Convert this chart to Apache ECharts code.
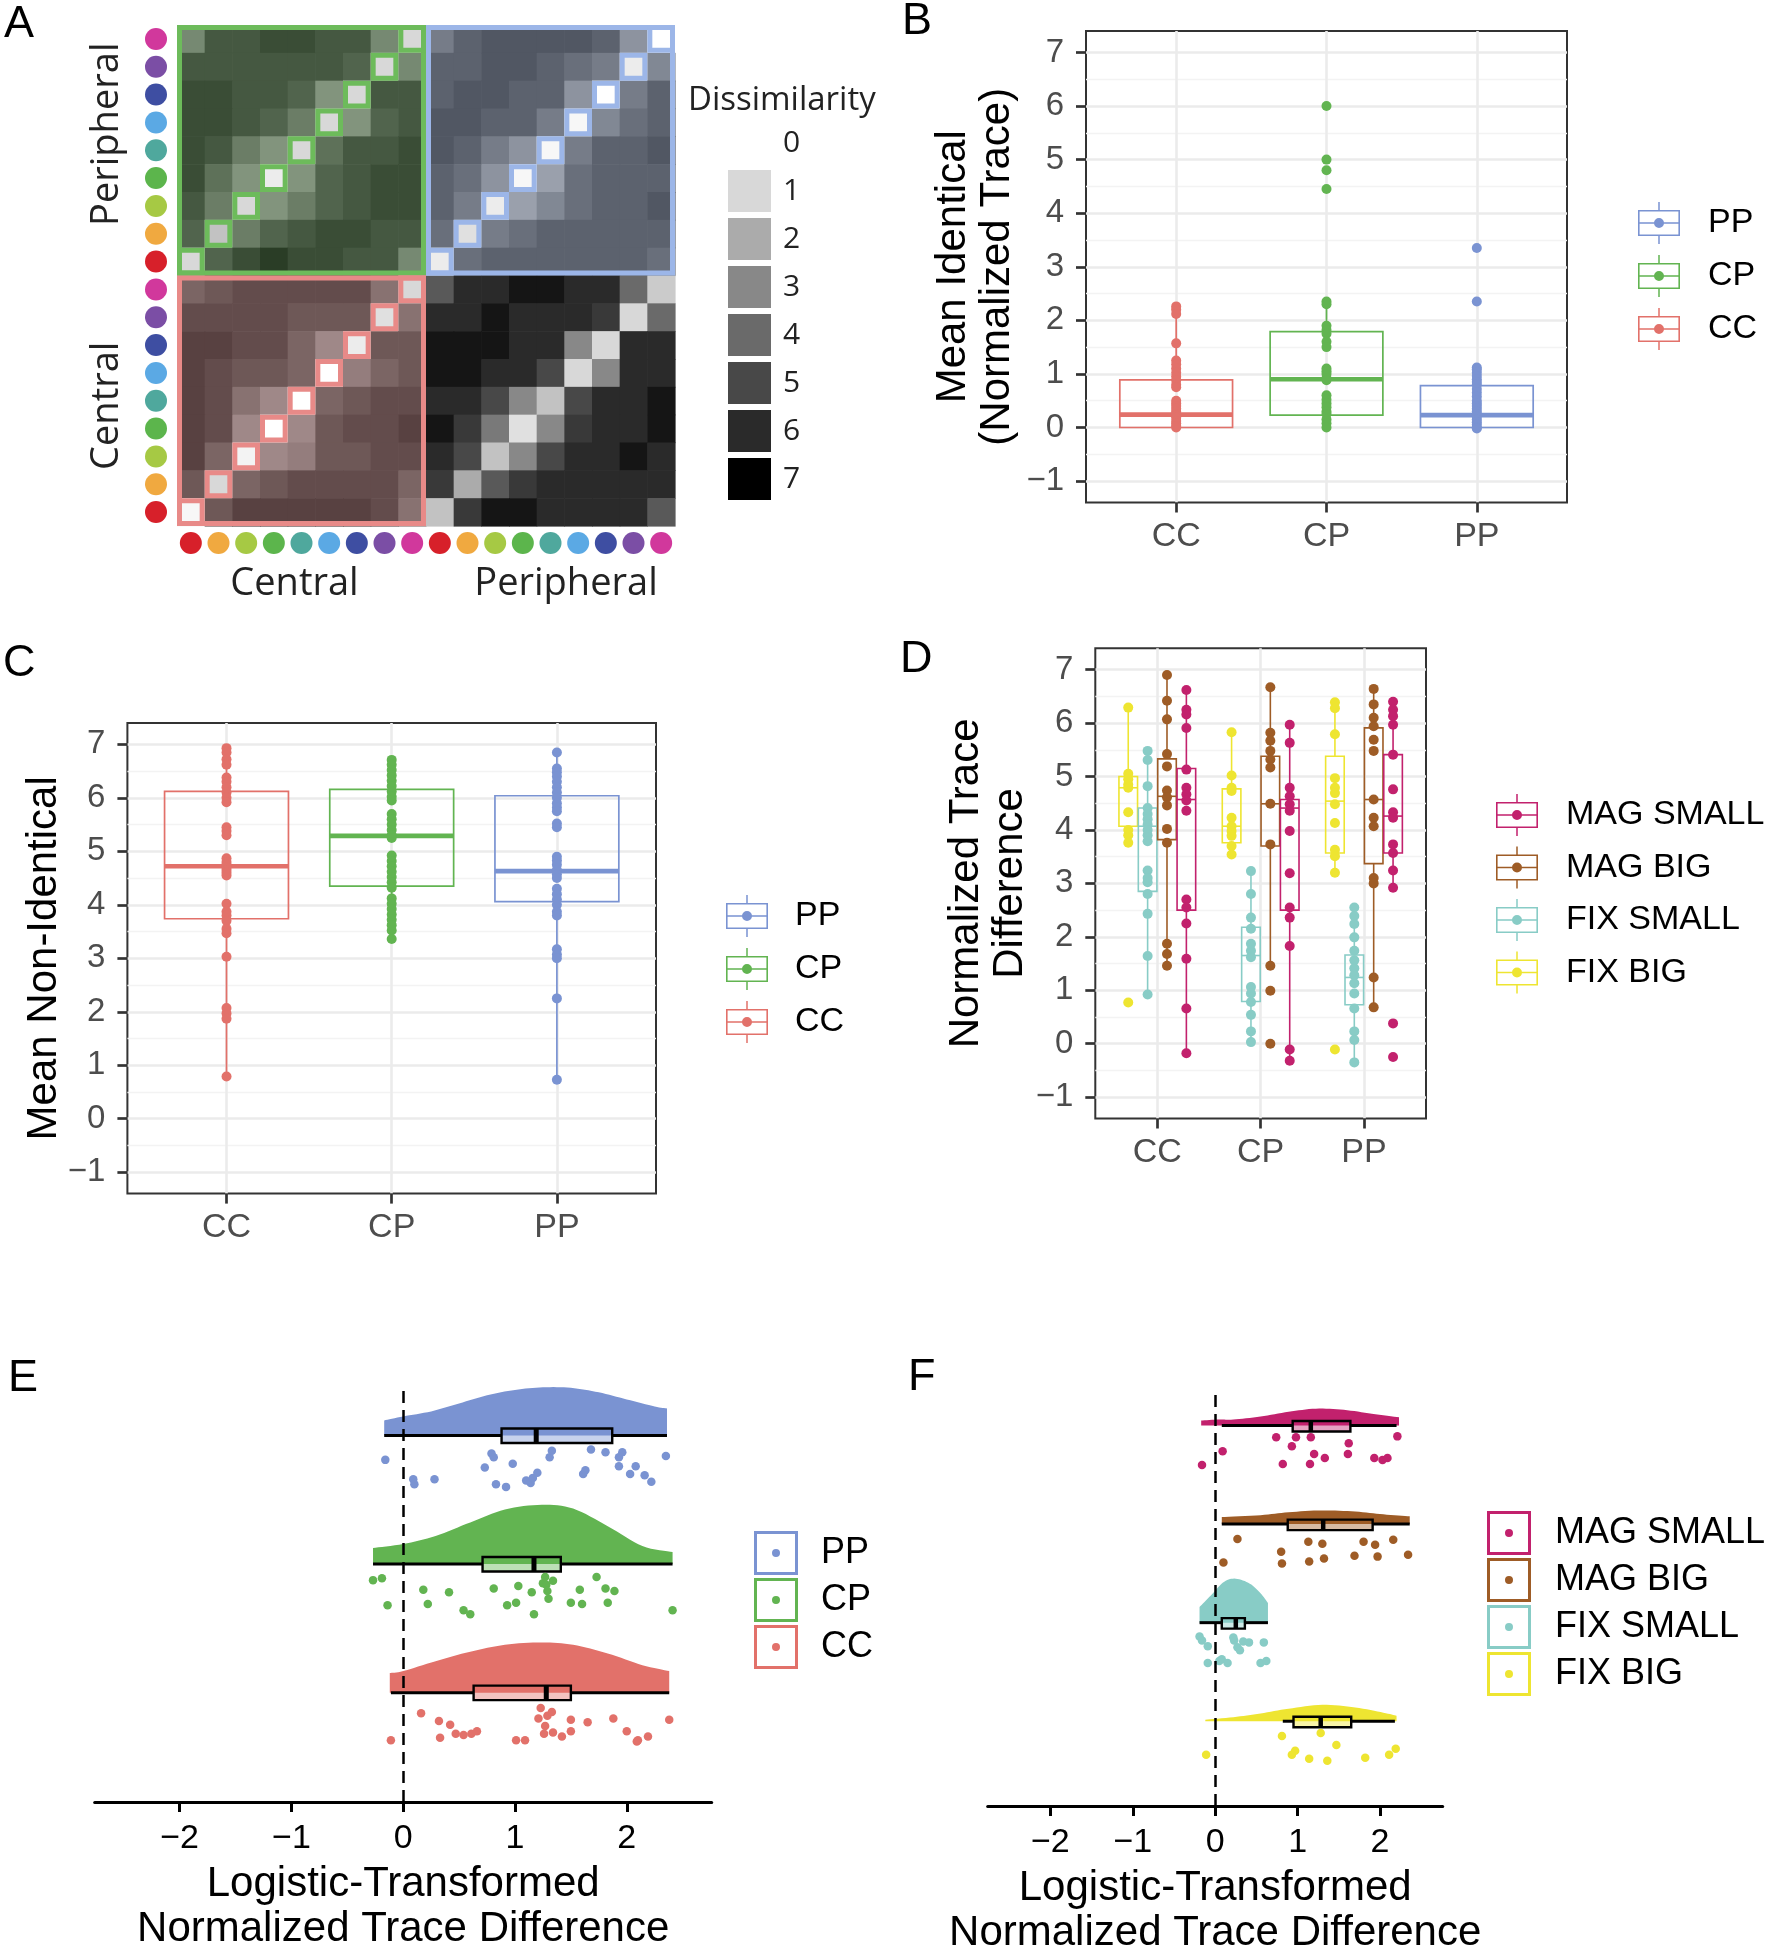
<!DOCTYPE html>
<html><head><meta charset="utf-8">
<script src="https://cdn.jsdelivr.net/npm/echarts@6/dist/echarts.min.js"></script>
<style>html,body{margin:0;padding:0;background:#fff}#chart{width:1770px;height:1955px}</style>
</head><body><div id="chart"></div>
<script>
// ================= DATA =================
// ---- Panel A ----
const aGroupNames = ['Central', 'Peripheral'];
const aColorNames = ['red', 'orange', 'light green', 'green', 'teal', 'light blue', 'blue', 'purple', 'magenta'];
const aDissimilarityLevels = [0, 1, 2, 3, 4, 5, 6, 7];
// rows from top (Peripheral magenta) to bottom (Central red); columns: Central red..magenta, Peripheral red..magenta
const aDissimilarityRows = [
  [3.5,5.5,5.5,6,6,5.5,5.5,3.5,1, 4,5,5.5,5.5,5.5,5.5,5,3,0],
  [5.5,5.5,5.5,5.5,5.5,5.5,5,1,3.5, 5,5,5.5,5.5,5,4.5,4,0.5,3.5],
  [6,6,5.5,5.5,5,3,1,5.5,5.5, 5,5.5,5.5,5,5,3,0,4,5],
  [6,6,5.5,5,4,1,3,5,5.5, 5.5,5.5,5,5,4,0.2,3.5,4.5,5],
  [6,5.5,4,3,1,4.5,5.5,5.5,6, 5.5,5,4,3,0.2,4,5,5,5.5],
  [6,4.5,3,0.5,3,5,5.5,6,6, 5,4.5,3,0.2,2.5,4.5,5,5,5],
  [5.5,4,1,3,4,5,5.5,6,6, 5,4,0.5,2.5,3.5,4.5,5,5,5.5],
  [5,1.5,4,5,5.5,6,6,5.5,5.5, 4.5,0.8,4,4.5,5,5,5,5,5],
  [1,5,6,6.5,6,6,5.5,5.5,3.5, 0.5,4.5,5,5,5,5,5,5,4.5],
  [4.5,5,5.5,5.5,5.5,5.5,5.5,4,1, 4.5,6,6,6.5,6.5,6,6,4,1.3],
  [5.5,5.5,5.5,5.5,5,5,5,0.8,4, 6,6,6.5,6,6,6,5.5,1,4],
  [6,6,5.5,5.5,4.5,3,0.5,5,5, 6.5,6.5,6.5,6,6,3,1,6,6],
  [6,5.5,5,5,4.5,0,3.5,4.5,5, 6.5,6.5,6,6,5,1,3,6,6],
  [6,5.5,4,3,0,4.5,5,5.5,5.5, 6,6,5,3,1.5,5,6,6,6.5],
  [6,5.5,3,0,3,5,5.5,5.5,6, 6.5,5.5,3.5,0.8,3,5.5,6,6,6.5],
  [6,4.5,0.3,3,3.5,5,5,5.5,5.5, 6,5,1.5,3,5,6,6,6.5,6],
  [5,1,4.5,5,5.5,5.5,5.5,5.5,4.5, 5.5,2,4.5,5.5,6,6,6,6,6],
  [0.2,5,6,6,6,6,6,5.5,4, 1.5,5.5,6.5,6.5,6,6,6,6,4.5]
];
const aOutlinedPairs = ['CP', 'PP', 'CC'];

// ---- Panels B, C ----
const catNames = ['CC', 'CP', 'PP'];
const yTickValues = [-1, 0, 1, 2, 3, 4, 5, 6, 7];
const yMinorValues = [-0.5, 0.5, 1.5, 2.5, 3.5, 4.5, 5.5, 6.5];
// box stats: [min whisker, Q1, median, Q3, max whisker]
const bBoxCC = [0.0, 0.0, 0.24, 0.89, 2.26];
const bBoxCP = [0.0, 0.23, 0.9, 1.79, 2.35];
const bBoxPP = [-0.02, 0.0, 0.23, 0.78, 1.12];
const bPointsCC = [2.26, 2.2, 2.12, 1.57, 1.25, 1.18, 1.1, 1.02, 0.95, 0.88, 0.8, 0.75, 0.5, 0.45, 0.4, 0.35, 0.3, 0.25, 0.22, 0.18, 0.12, 0.08, 0.03, 0.0];
const bPointsCP = [6.0, 5.0, 4.8, 4.45, 2.35, 2.3, 1.9, 1.82, 1.75, 1.6, 1.5, 1.1, 1.05, 1.0, 0.92, 0.88, 0.6, 0.52, 0.45, 0.38, 0.3, 0.25, 0.15, 0.08, 0.0];
const bPointsPP = [3.35, 2.35, 1.12, 1.08, 1.02, 0.96, 0.9, 0.85, 0.8, 0.72, 0.65, 0.58, 0.5, 0.45, 0.4, 0.35, 0.3, 0.25, 0.2, 0.15, 0.1, 0.05, 0.0, -0.02];

const cBoxCC = [0.79, 3.74, 4.72, 6.12, 6.93];
const cBoxCP = [3.36, 4.35, 5.29, 6.16, 6.71];
const cBoxPP = [0.73, 4.06, 4.63, 6.04, 6.85];
const cPointsCC = [6.93, 6.85, 6.72, 6.62, 6.38, 6.3, 6.2, 6.1, 6.0, 5.92, 5.45, 5.38, 5.3, 4.87, 4.8, 4.75, 4.7, 4.65, 4.6, 4.55, 4.02, 3.87, 3.8, 3.7, 3.55, 3.47, 3.03, 2.07, 1.97, 1.87, 0.79];
const cPointsCP = [6.71, 6.62, 6.52, 6.42, 6.32, 6.22, 6.12, 6.02, 5.95, 5.7, 5.6, 5.5, 5.4, 5.3, 5.25, 4.92, 4.82, 4.72, 4.62, 4.52, 4.42, 4.32, 4.12, 4.02, 3.92, 3.82, 3.72, 3.62, 3.52, 3.36];
const cPointsPP = [6.85, 6.55, 6.48, 6.4, 6.3, 6.2, 6.1, 6.0, 5.9, 5.82, 5.75, 5.52, 5.45, 4.9, 4.83, 4.75, 4.65, 4.57, 4.5, 4.3, 4.2, 4.1, 4.0, 3.87, 3.8, 3.17, 3.07, 3.0, 2.25, 0.73];

// ---- Panel D ----  (order within each category: CC, CP, PP)
const dGroupNames = ['FIX BIG', 'FIX SMALL', 'MAG BIG', 'MAG SMALL'];
const dBoxFixBig = [[3.76, 4.07, 4.79, 5.0, 6.29], [3.54, 3.76, 4.07, 4.77, 5.83], [3.2, 3.57, 4.54, 5.38, 6.39]];
const dBoxFixSmall = [[0.92, 2.85, 4.07, 4.41, 5.48], [0.03, 0.79, 1.65, 2.18, 3.23], [-0.35, 0.73, 1.24, 1.66, 2.55]];
const dBoxMagBig = [[1.46, 3.82, 4.63, 5.33, 6.9], [1.46, 3.7, 4.49, 5.38, 6.67], [0.68, 3.37, 4.57, 5.91, 6.64]];
const dBoxMagSmall = [[-0.18, 2.5, 4.57, 5.15, 6.62], [-0.32, 2.5, 4.41, 4.57, 5.97], [2.92, 3.57, 4.26, 5.41, 6.4]];
const dPointsFixBig = [
  [6.29, 5.05, 4.95, 4.85, 4.79, 4.33, 4.0, 3.9, 3.76, 0.77],
  [5.83, 5.02, 4.79, 4.73, 4.23, 4.07, 3.98, 3.89, 3.7, 3.54],
  [6.39, 6.28, 5.79, 4.97, 4.79, 4.69, 4.48, 4.13, 3.63, 3.51, 3.2, -0.11]];
const dPointsFixSmall = [
  [5.48, 5.31, 4.82, 4.41, 4.3, 4.2, 4.1, 4.0, 3.9, 3.79, 3.24, 3.1, 3.02, 2.8, 2.43, 1.64, 0.92],
  [3.23, 2.8, 2.36, 2.15, 1.87, 1.74, 1.62, 1.06, 0.94, 0.78, 0.54, 0.23, 0.03],
  [2.55, 2.39, 2.24, 1.99, 1.74, 1.56, 1.41, 1.28, 1.13, 0.94, 0.66, 0.23, 0.07, -0.35]];
const dPointsMagBig = [
  [6.9, 6.42, 6.07, 5.42, 5.19, 4.74, 4.61, 4.46, 4.02, 3.76, 1.87, 1.68, 1.46],
  [6.67, 5.82, 5.67, 5.48, 5.32, 5.17, 4.49, 3.73, 1.46, 0.99, 0.0],
  [6.64, 6.35, 6.1, 5.94, 5.69, 5.48, 4.57, 4.23, 4.07, 3.1, 3.0, 1.24, 0.68]];
const dPointsMagSmall = [
  [6.62, 6.25, 6.16, 5.91, 5.13, 4.79, 4.67, 4.55, 4.36, 2.7, 2.55, 2.25, 1.59, 0.66, -0.18],
  [5.97, 5.63, 4.79, 4.63, 4.48, 4.36, 3.98, 3.19, 2.55, 2.36, 1.83, -0.11, -0.32],
  [6.4, 6.25, 6.13, 5.97, 5.41, 4.76, 4.33, 4.23, 3.73, 3.57, 3.24, 2.92, 0.38, -0.25]];

// ---- Panel E ---- (groups listed top to bottom)
const eGroupNames = ['PP', 'CP', 'CC'];
const eXTicks = [-2, -1, 0, 1, 2];
const eDensX_PP = [-0.17, 0, 0.25, 0.5, 0.75, 1.0, 1.25, 1.5, 1.75, 2.0, 2.25, 2.36];
const eDensH_PP = [0.117, 0.148, 0.187, 0.249, 0.312, 0.354, 0.374, 0.370, 0.335, 0.280, 0.225, 0.21];
const eDensX_CP = [-0.27, 0, 0.29, 0.6, 0.91, 1.24, 1.52, 1.83, 2.14, 2.41];
const eDensH_CP = [0.125, 0.156, 0.218, 0.324, 0.424, 0.461, 0.431, 0.294, 0.140, 0.093];
const eDensX_CC = [-0.12, 0, 0.29, 0.6, 0.91, 1.24, 1.52, 1.83, 2.14, 2.38];
const eDensH_CC = [0.153, 0.168, 0.245, 0.319, 0.372, 0.391, 0.372, 0.305, 0.214, 0.168];
const eBox_PP = [-0.17, 0.88, 1.19, 1.87, 2.36];
const eBox_CP = [-0.27, 0.71, 1.17, 1.41, 2.41];
const eBox_CC = [-0.11, 0.63, 1.28, 1.50, 2.38];
const ePtsX_PP = [-0.16, 0.09, 0.10, 0.28, 0.79, 0.81, 0.73, 0.83, 0.92, 0.98, 1.10, 1.14, 1.16, 1.20, 1.31, 1.33, 1.61, 1.63, 1.68, 1.81, 1.93, 1.96, 1.93, 2.03, 2.08, 2.16, 2.22, 2.35];
const ePtsJ_PP = [0.19, 0.34, 0.38, 0.34, 0.14, 0.17, 0.25, 0.38, 0.40, 0.22, 0.35, 0.37, 0.33, 0.29, 0.17, 0.12, 0.30, 0.27, 0.11, 0.13, 0.17, 0.13, 0.24, 0.30, 0.24, 0.31, 0.36, 0.16];
const ePtsX_CP = [-0.27, -0.19, -0.14, 0.18, 0.22, 0.41, 0.54, 0.60, 0.81, 0.93, 1.01, 1.03, 1.15, 1.17, 1.25, 1.27, 1.28, 1.29, 1.30, 1.34, 1.50, 1.58, 1.60, 1.73, 1.81, 1.83, 1.89, 2.41];
const ePtsJ_CP = [0.125, 0.11, 0.32, 0.20, 0.31, 0.22, 0.36, 0.39, 0.19, 0.32, 0.30, 0.17, 0.22, 0.39, 0.15, 0.10, 0.16, 0.21, 0.27, 0.13, 0.30, 0.20, 0.31, 0.10, 0.19, 0.30, 0.21, 0.36];
const ePtsX_CC = [-0.11, 0.16, 0.32, 0.33, 0.42, 0.47, 0.54, 0.61, 0.66, 1.01, 1.09, 1.23, 1.21, 1.26, 1.27, 1.29, 1.33, 1.34, 1.42, 1.50, 1.50, 1.65, 1.88, 2.00, 2.09, 2.10, 2.19, 2.38];
const ePtsJ_CC = [0.37, 0.16, 0.22, 0.35, 0.25, 0.32, 0.33, 0.32, 0.30, 0.37, 0.37, 0.12, 0.20, 0.32, 0.26, 0.18, 0.15, 0.31, 0.34, 0.21, 0.30, 0.23, 0.20, 0.30, 0.38, 0.37, 0.34, 0.21];

// ---- Panel F ---- (groups listed top to bottom)
const fGroupNames = ['MAG SMALL', 'MAG BIG', 'FIX SMALL', 'FIX BIG'];
const fDensX_MagSmall = [-0.17, 0.05, 0.22, 0.55, 0.89, 1.22, 1.56, 1.9, 2.23];
const fDensH_MagSmall = [0.051, 0.061, 0.061, 0.091, 0.139, 0.171, 0.159, 0.120, 0.083];
const fDensX_MagBig = [0.08, 0.55, 0.89, 1.3, 1.7, 2.04, 2.36];
const fDensH_MagBig = [0.071, 0.091, 0.120, 0.139, 0.127, 0.099, 0.079];
const fDensX_FixSmall = [-0.19, -0.05, 0.11, 0.25, 0.42, 0.55, 0.64];
const fDensH_FixSmall = [0.159, 0.279, 0.416, 0.446, 0.396, 0.298, 0.199];
const fDensX_FixBig = [-0.12, 0.22, 0.55, 0.89, 1.3, 1.7, 2.04, 2.2];
const fDensH_FixBig = [0.016, 0.041, 0.079, 0.127, 0.167, 0.139, 0.087, 0.056];
const fBox_MagSmall = [0.08, 0.94, 1.16, 1.64, 2.2];
const fBox_MagBig = [0.08, 0.88, 1.31, 1.91, 2.36];
const fBox_FixSmall = [-0.19, 0.08, 0.25, 0.36, 0.64];
const fBox_FixBig = [0.82, 0.95, 1.28, 1.65, 2.18];
const fPtsX_MagSmall = [-0.16, 0.09, 0.74, 0.98, 0.93, 1.16, 1.20, 1.33, 0.82, 1.15, 1.62, 1.61, 1.93, 2.03, 2.09, 2.21];
const fPtsJ_MagSmall = [0.40, 0.26, 0.12, 0.12, 0.21, 0.12, 0.29, 0.33, 0.39, 0.39, 0.18, 0.29, 0.33, 0.35, 0.33, 0.11];
const fPtsX_MagBig = [0.27, 0.10, 0.80, 0.81, 1.13, 1.14, 1.30, 1.32, 1.69, 1.80, 1.94, 1.97, 2.16, 2.34];
const fPtsJ_MagBig = [0.15, 0.39, 0.28, 0.40, 0.18, 0.38, 0.20, 0.35, 0.32, 0.18, 0.21, 0.33, 0.16, 0.31];
const fPtsX_FixSmall = [-0.19, -0.16, -0.09, -0.09, 0.08, 0.15, 0.23, 0.27, 0.30, 0.34, 0.41, 0.59, 0.55, 0.62, 0.05, 0.22];
const fPtsJ_FixSmall = [0.14, 0.18, 0.24, 0.41, 0.37, 0.41, 0.18, 0.25, 0.28, 0.19, 0.20, 0.20, 0.41, 0.39, 0.39, 0.15];
const fPtsX_FixBig = [-0.11, 0.81, 0.97, 0.93, 1.14, 1.28, 1.47, 1.36, 1.82, 2.11, 2.19];
const fPtsJ_FixBig = [0.34, 0.15, 0.30, 0.34, 0.38, 0.12, 0.24, 0.40, 0.37, 0.34, 0.28];

// ================= STYLES =================
const FONT = '"Liberation Sans", Arial, Helvetica, sans-serif';
const FONT_A = '"Open Sans", "Noto Sans", sans-serif';
const aDotColors = ['#d7202a', '#f0a940', '#a6c944', '#5cb54c', '#4fa89d', '#5ba9e4', '#3e4ea2', '#7b4ea5', '#d1389c'];
const aGrayStops = [255, 216, 171, 136, 106, 72, 42, 0];
const aQuadColors = { CP: '#6dbb5b', PP: '#9cb6e8', CC: '#e88a88' };
const catColors = { CC: '#e2716a', CP: '#62b451', PP: '#7a93d2' };
const dColors = { 'FIX BIG': '#eee531', 'FIX SMALL': '#88ccc6', 'MAG BIG': '#9e5c26', 'MAG SMALL': '#c2216d' };

// ================= HELPERS =================
const nA = aColorNames.length;
function grayOf(v) {
  const i = Math.min(aGrayStops.length - 2, Math.floor(v));
  const t = v - i;
  return aGrayStops[i] * (1 - t) + aGrayStops[i + 1] * t;
}
function hexToRgb(h) { return [parseInt(h.slice(1, 3), 16), parseInt(h.slice(3, 5), 16), parseInt(h.slice(5, 7), 16)]; }
function quadKey(c, r) {
  const cg = Math.floor(c / nA), rg = Math.floor(r / nA);
  return (cg === 0 ? 'C' : 'P') + (rg === 0 ? 'C' : 'P');
}
function cellColor(c, r, v) {
  const g = grayOf(v);
  const key = quadKey(c, r);
  const tint = aQuadColors[key];
  if (!tint || (c % nA) === (r % nA)) { const q = Math.round(g); return 'rgb(' + q + ',' + q + ',' + q + ')'; }
  const t = hexToRgb(tint), a = 0.24;
  return 'rgb(' + t.map(x => Math.round(g * (1 - a) + x * a)).join(',') + ')';
}
function fmtMinus(v) { return String(v).replace('-', '\u2212'); }
function catmull(pts, seg) {
  const out = [];
  for (let i = 0; i < pts.length - 1; i++) {
    const p0 = pts[Math.max(i - 1, 0)], p1 = pts[i], p2 = pts[i + 1], p3 = pts[Math.min(i + 2, pts.length - 1)];
    for (let k = 0; k < seg; k++) {
      const s = k / seg, s2 = s * s, s3 = s2 * s;
      const f = d => 0.5 * (2 * p1[d] + (-p0[d] + p2[d]) * s + (2 * p0[d] - 5 * p1[d] + 4 * p2[d] - p3[d]) * s2 + (-p0[d] + 3 * p1[d] - 3 * p2[d] + p3[d]) * s3);
      out.push([f(0), f(1)]);
    }
  }
  out.push(pts[pts.length - 1]);
  return out;
}

// vertical box (panels B, C, D): value = [x, min, q1, med, q3, max]
function vBoxRender(halfW, lw, medW) {
  return function (params, api) {
    const x = api.value(0);
    const lo = api.coord([x, api.value(1)]), q1 = api.coord([x, api.value(2)]), md = api.coord([x, api.value(3)]),
      q3 = api.coord([x, api.value(4)]), hi = api.coord([x, api.value(5)]);
    const hw = api.size([halfW, 0])[0];
    const color = api.visual('color');
    return { type: 'group', children: [
      { type: 'line', shape: { x1: lo[0], y1: lo[1], x2: q1[0], y2: q1[1] }, style: { stroke: color, lineWidth: lw } },
      { type: 'line', shape: { x1: q3[0], y1: q3[1], x2: hi[0], y2: hi[1] }, style: { stroke: color, lineWidth: lw } },
      { type: 'rect', shape: { x: q3[0] - hw, y: q3[1], width: 2 * hw, height: q1[1] - q3[1] }, style: { fill: 'none', stroke: color, lineWidth: lw } },
      { type: 'line', shape: { x1: md[0] - hw, y1: md[1], x2: md[0] + hw, y2: md[1] }, style: { stroke: color, lineWidth: medW } }
    ] };
  };
}
// horizontal box (panels E, F): value = [base, min, q1, med, q3, max]
function hBoxRender(up, down, boxLw, whLw, medW) {
  return function (params, api) {
    const base = api.value(0);
    const p = k => api.coord([api.value(k), base]);
    const lo = p(1), q1 = p(2), md = p(3), q3 = p(4), hi = p(5);
    const y = lo[1];
    const color = api.visual('color');
    return { type: 'group', children: [
      { type: 'line', shape: { x1: lo[0], y1: y, x2: q1[0], y2: y }, style: { stroke: '#000', lineWidth: whLw } },
      { type: 'line', shape: { x1: q3[0], y1: y, x2: hi[0], y2: y }, style: { stroke: '#000', lineWidth: whLw } },
      { type: 'rect', shape: { x: q1[0], y: y - up, width: q3[0] - q1[0], height: up + down }, style: { fill: echarts.color.modifyAlpha(color, 0.42), stroke: '#000', lineWidth: boxLw } },
      { type: 'line', shape: { x1: md[0], y1: y - up, x2: md[0], y2: y + down }, style: { stroke: '#000', lineWidth: medW } }
    ] };
  };
}
function densityRender(xs, hs) {
  return function (params, api) {
    const base = api.value(1);
    const top = xs.map((x, i) => api.coord([x, base + hs[i]]));
    const sm = catmull(top, 8);
    const pts = [api.coord([xs[0], base])].concat(sm, [api.coord([xs[xs.length - 1], base])]);
    return { type: 'polygon', shape: { points: pts }, style: { fill: api.visual('color') } };
  };
}

// ================= AXES =================
const dotRich = {};
aDotColors.forEach((c, i) => { dotRich['d' + i] = { width: 22, height: 22, borderRadius: 11, backgroundColor: c }; });
const aCategories = [];
aGroupNames.forEach(g => aColorNames.forEach(cn => aCategories.push(g + ' ' + cn)));

const groupRichX = {
  c: { fontFamily: FONT_A, fontSize: 38, lineHeight: 38, color: '#222', padding: [0, 14, 0, 0] },
  p: { fontFamily: FONT_A, fontSize: 38, lineHeight: 38, color: '#222', padding: [0, 0, 0, 31] }
};
const groupRichY = {
  c: { fontFamily: FONT_A, fontSize: 38, lineHeight: 38, color: '#222', padding: [0, 10, 0, 0] },
  p: { fontFamily: FONT_A, fontSize: 38, lineHeight: 38, color: '#222', padding: [0, 0, 0, 32] }
};

function catXAxis(gi) {
  return {
    type: 'value', gridIndex: gi, min: 0.4, max: 3.6, position: 'bottom',
    axisLine: { show: false, onZero: false },
    axisTick: { show: true, customValues: [1, 2, 3], length: 10, lineStyle: { color: '#333', width: 2.7 } },
    axisLabel: { customValues: [1, 2, 3], formatter: v => catNames[Math.round(v) - 1], fontSize: 34, lineHeight: 36, color: '#4d4d4d', fontFamily: FONT, margin: 16 },
    splitLine: { show: true, lineStyle: { color: '#ebebeb', width: 2.6 } }
  };
}
function minorYAxis(gi) {
  return {
    type: 'value', gridIndex: gi, position: 'left', min: -1.4, max: 7.4,
    axisLine: { show: false, onZero: false }, axisTick: { show: false, customValues: yMinorValues }, axisLabel: { show: false },
    splitLine: { show: true, lineStyle: { color: '#f3f3f3', width: 1.4 } }
  };
}
function majorYAxis(gi, name, gap) {
  return {
    type: 'value', gridIndex: gi, position: 'left', min: -1.4, max: 7.4,
    axisLine: { show: false, onZero: false },
    axisTick: { show: true, customValues: yTickValues, length: 10, lineStyle: { color: '#333', width: 2.7 } },
    axisLabel: { customValues: yTickValues, formatter: v => fmtMinus(v), fontSize: 33, lineHeight: 36, color: '#4d4d4d', fontFamily: FONT, margin: 22 },
    splitLine: { show: true, lineStyle: { color: '#ebebeb', width: 2.7 } },
    name: name, nameLocation: 'middle', nameGap: gap, nameMoveOverlap: false,
    nameTextStyle: { fontSize: 42, lineHeight: 44, color: '#000', fontFamily: FONT }
  };
}
function rainXAxis(gi) {
  return {
    type: 'value', gridIndex: gi, min: -2.76, max: 2.76, position: 'bottom',
    axisLine: { show: true, onZero: false, lineStyle: { color: '#000', width: 3 } },
    axisTick: { show: true, customValues: eXTicks, length: 10, lineStyle: { color: '#000', width: 3 } },
    axisLabel: { customValues: eXTicks, formatter: v => fmtMinus(v), fontSize: 34, lineHeight: 38, color: '#000', fontFamily: FONT, margin: 18 },
    splitLine: { show: false },
    name: 'Logistic-Transformed\nNormalized Trace Difference', nameLocation: 'middle', nameGap: 60, nameMoveOverlap: false,
    nameTextStyle: { fontSize: 42, lineHeight: 45, color: '#000', fontFamily: FONT }
  };
}

const xAxes = [
  { type: 'category', gridIndex: 0, data: aCategories, boundaryGap: true, position: 'bottom',
    axisLine: { show: false, onZero: false }, axisTick: { show: false }, splitLine: { show: false },
    axisLabel: { interval: 0, margin: 6, formatter: (v, i) => '{d' + (i % nA) + '|}', rich: dotRich } },
  { type: 'category', gridIndex: 0, data: aGroupNames, boundaryGap: true, position: 'bottom',
    axisLine: { show: false, onZero: false }, axisTick: { show: false }, splitLine: { show: false },
    axisLabel: { interval: 0, margin: 39, formatter: v => '{' + (v === 'Central' ? 'c' : 'p') + '|' + v + '}', rich: groupRichX } },
  catXAxis(1), catXAxis(2), catXAxis(3), rainXAxis(4), rainXAxis(5)
];
const yAxes = [
  { type: 'category', gridIndex: 0, data: aCategories, boundaryGap: true, position: 'left',
    axisLine: { show: false, onZero: false }, axisTick: { show: false }, splitLine: { show: false },
    axisLabel: { interval: 0, margin: 10, formatter: (v, i) => '{d' + (i % nA) + '|}', rich: dotRich } },
  { type: 'category', gridIndex: 0, data: aGroupNames, boundaryGap: true, position: 'left',
    axisLine: { show: false, onZero: false }, axisTick: { show: false }, splitLine: { show: false },
    axisLabel: { interval: 0, rotate: 90, margin: 51, formatter: v => '{' + (v === 'Central' ? 'c' : 'p') + '|' + v + '}', rich: groupRichY } },
  minorYAxis(1), majorYAxis(1, 'Mean Identical\n(Normalized Trace)', 67),
  minorYAxis(2), majorYAxis(2, 'Mean Non-Identical', 61),
  minorYAxis(3), majorYAxis(3, 'Normalized Trace\nDifference', 63),
  { type: 'value', gridIndex: 4, min: 0.15, max: 3.361, show: false },
  { type: 'value', gridIndex: 5, min: 0.14, max: 4.33, show: false }
];

// ================= SERIES =================
const series = [];
// 0: dummy target for the Dissimilarity legend (visualMap)
series.push({ type: 'scatter', xAxisIndex: 0, yAxisIndex: 0, data: [], silent: true });
// A: cells
const aCells = [];
aDissimilarityRows.forEach((row, k) => {
  const r = 2 * nA - 1 - k;
  row.forEach((v, c) => aCells.push([c, r, v]));
});
series.push({
  type: 'custom', name: 'Dissimilarity', xAxisIndex: 0, yAxisIndex: 0, data: aCells, silent: true,
  renderItem: function (params, api) {
    const c = api.value(0), r = api.value(1), v = api.value(2);
    const p = api.coord([c, r]);
    const sz = api.size([1, 1]);
    return { type: 'rect', shape: { x: p[0] - sz[0] / 2, y: p[1] - sz[1] / 2, width: sz[0] + 0.6, height: sz[1] + 0.6 }, style: { fill: cellColor(c, r, v) } };
  }
});
// A: quadrant frames and identical-pair outlines
series.push({
  type: 'custom', xAxisIndex: 0, yAxisIndex: 0, silent: true,
  data: aOutlinedPairs.map(key => ({ value: [key[0] === 'C' ? 0 : 1, key[1] === 'C' ? 0 : 1], itemStyle: { color: aQuadColors[key] } })),
  renderItem: function (params, api) {
    const cg = api.value(0), rg = api.value(1);
    const sz = api.size([1, 1]);
    const lw = 5;
    const color = api.visual('color');
    const tl = api.coord([cg * nA, rg * nA + nA - 1]);
    const br = api.coord([cg * nA + nA - 1, rg * nA]);
    const x0 = tl[0] - sz[0] / 2, y0 = tl[1] - sz[1] / 2, x1 = br[0] + sz[0] / 2, y1 = br[1] + sz[1] / 2;
    const children = [{ type: 'rect', shape: { x: x0 + lw / 2, y: y0 + lw / 2, width: x1 - x0 - lw, height: y1 - y0 - lw }, style: { fill: 'none', stroke: color, lineWidth: lw } }];
    for (let i = 0; i < nA; i++) {
      const p = api.coord([cg * nA + i, rg * nA + i]);
      children.push({ type: 'rect', shape: { x: p[0] - sz[0] / 2 + lw / 2, y: p[1] - sz[1] / 2 + lw / 2, width: sz[0] - lw, height: sz[1] - lw }, style: { fill: 'none', stroke: color, lineWidth: lw } });
    }
    return { type: 'group', children: children };
  }
});

// B and C
function addBoxPanel(xi, yi, boxes, points) {
  catNames.forEach((c, k) => {
    series.push({ type: 'custom', name: c + ' box', xAxisIndex: xi, yAxisIndex: yi, silent: true,
      data: [[k + 1].concat(boxes[k])], encode: { x: 0, y: [1, 2, 3, 4, 5] },
      itemStyle: { color: catColors[c] }, renderItem: vBoxRender(0.375, 1.7, 4.6), z: 2 });
  });
  catNames.forEach((c, k) => {
    series.push({ type: 'scatter', name: c, xAxisIndex: xi, yAxisIndex: yi, silent: true,
      data: points[k].map(v => [k + 1, v]), symbolSize: 10, itemStyle: { color: catColors[c], opacity: 1 }, z: 3 });
  });
}
addBoxPanel(2, 3, [bBoxCC, bBoxCP, bBoxPP], [bPointsCC, bPointsCP, bPointsPP]);
addBoxPanel(3, 5, [cBoxCC, cBoxCP, cBoxPP], [cPointsCC, cPointsCP, cPointsPP]);

// D
const dBoxes = [dBoxFixBig, dBoxFixSmall, dBoxMagBig, dBoxMagSmall];
const dPoints = [dPointsFixBig, dPointsFixSmall, dPointsMagBig, dPointsMagSmall];
const dodge = 0.75 / dGroupNames.length;
dGroupNames.forEach((g, gi) => {
  const off = (gi - (dGroupNames.length - 1) / 2) * dodge;
  series.push({ type: 'custom', name: g + ' box', xAxisIndex: 4, yAxisIndex: 7, silent: true,
    data: catNames.map((c, k) => [k + 1 + off].concat(dBoxes[gi][k])), encode: { x: 0, y: [1, 2, 3, 4, 5] },
    itemStyle: { color: dColors[g] }, renderItem: vBoxRender(dodge * 0.48, 1.6, 1.6), z: 2 });
});
dGroupNames.forEach((g, gi) => {
  const off = (gi - (dGroupNames.length - 1) / 2) * dodge;
  const data = [];
  catNames.forEach((c, k) => dPoints[gi][k].forEach(v => data.push([k + 1 + off, v])));
  series.push({ type: 'scatter', name: g, xAxisIndex: 4, yAxisIndex: 7, silent: true, data: data,
    symbolSize: 10, itemStyle: { color: dColors[g], opacity: 1 }, z: 3 });
});

// E and F (raincloud)
function addRain(xi, yi, names, colors, dens, boxes, pts, up, down, medW) {
  const nG = names.length;
  names.forEach((g, i) => {
    const base = nG - i;
    series.push({ type: 'custom', name: g + ' density', xAxisIndex: xi, yAxisIndex: yi, silent: true,
      data: [[dens[i][0][0], base]], itemStyle: { color: colors[g] }, renderItem: densityRender(dens[i][0], dens[i][1]), z: 2 });
  });
  names.forEach((g, i) => {
    const base = nG - i;
    series.push({ type: 'custom', name: g + ' box', xAxisIndex: xi, yAxisIndex: yi, silent: true,
      data: [[base].concat(boxes[i])], encode: { x: [1, 2, 3, 4, 5], y: 0 },
      itemStyle: { color: colors[g] }, renderItem: hBoxRender(up, down, 2.4, 3, medW), z: 3 });
  });
  names.forEach((g, i) => {
    const base = nG - i;
    const s = { type: 'scatter', name: g, xAxisIndex: xi, yAxisIndex: yi, silent: true,
      data: pts[i][0].map((x, k) => [x, base - pts[i][1][k]]), symbolSize: 8.5,
      itemStyle: { color: colors[g], opacity: 1 }, z: 4 };
    if (i === 0) {
      s.markLine = { silent: true, symbol: ['none', 'none'], label: { show: false }, animation: false,
        lineStyle: { color: '#000', type: [12, 7], width: 2.5 }, data: [{ xAxis: 0 }], z: 10 };
    }
    series.push(s);
  });
}
addRain(5, 8, eGroupNames, catColors,
  [[eDensX_PP, eDensH_PP], [eDensX_CP, eDensH_CP], [eDensX_CC, eDensH_CC]],
  [eBox_PP, eBox_CP, eBox_CC],
  [[ePtsX_PP, ePtsJ_PP], [ePtsX_CP, ePtsJ_CP], [ePtsX_CC, ePtsJ_CC]], 7, 7.5, 5);
addRain(6, 9, fGroupNames, dColors,
  [[fDensX_MagSmall, fDensH_MagSmall], [fDensX_MagBig, fDensH_MagBig], [fDensX_FixSmall, fDensH_FixSmall], [fDensX_FixBig, fDensH_FixBig]],
  [fBox_MagSmall, fBox_MagBig, fBox_FixSmall, fBox_FixBig],
  [[fPtsX_MagSmall, fPtsJ_MagSmall], [fPtsX_MagBig, fPtsJ_MagBig], [fPtsX_FixSmall, fPtsJ_FixSmall], [fPtsX_FixBig, fPtsJ_FixBig]], 4.5, 6, 4.5);

// ================= LEGENDS =================
const boxKeyIcon = 'path://M20.25,0L21.75,0L21.75,8L20.25,8Z M0,8L42,8L42,34L0,34Z M1.6,9.6L1.6,32.4L40.4,32.4L40.4,9.6Z M1.6,20.25L40.4,20.25L40.4,21.75L1.6,21.75Z M20.25,34L21.75,34L21.75,42L20.25,42Z M26,21A5,5 0 1,1 16,21A5,5 0 1,1 26,21Z';
const squareKeyIcon = 'path://M0,0L44,0L44,44L0,44Z M3,3L3,41L41,41L41,3Z M26,22A4,4 0 1,1 18,22A4,4 0 1,1 26,22Z';
function legend(left, top, names, colors, icon, size, gap, fontSize, pad) {
  return {
    orient: 'vertical', left: left, top: top, padding: 0, itemWidth: size, itemHeight: size, itemGap: gap,
    selectedMode: false, symbolKeepAspect: false,
    data: names.map(nm => ({ name: nm, icon: icon, itemStyle: { color: colors[nm], borderWidth: 0, opacity: 1 } })),
    formatter: nm => '{t|' + nm + '}',
    textStyle: { fontSize: fontSize, color: '#000', fontFamily: FONT,
      rich: { t: { fontSize: fontSize, color: '#000', fontFamily: FONT, padding: [0, 0, 0, pad] } } }
  };
}
const legends = [
  legend(1638, 202, ['PP', 'CP', 'CC'], catColors, boxKeyIcon, 42, 11, 34, 23),
  legend(726, 895, ['PP', 'CP', 'CC'], catColors, boxKeyIcon, 42, 11, 34, 22),
  legend(1496, 794, ['MAG SMALL', 'MAG BIG', 'FIX SMALL', 'FIX BIG'], dColors, boxKeyIcon, 42, 10.5, 34, 23),
  legend(754, 1531, ['PP', 'CP', 'CC'], catColors, squareKeyIcon, 44, 3, 36, 18),
  legend(1487, 1511, ['MAG SMALL', 'MAG BIG', 'FIX SMALL', 'FIX BIG'], dColors, squareKeyIcon, 44, 3, 36, 19)
];

// ================= TEXT =================
function label(text, x, y, size, font, color) {
  return { type: 'text', x: x, y: y, silent: true, style: { text: text, font: size + 'px ' + font, fill: color || '#000', align: 'left', verticalAlign: 'middle' } };
}
const graphics = [
  label('A', 4, 25, 45, FONT), label('B', 902, 22, 45, FONT), label('C', 3, 664, 45, FONT),
  label('D', 900, 660, 45, FONT), label('E', 8, 1379, 45, FONT), label('F', 908, 1378, 45, FONT),
  label('Dissimilarity', 688, 101, 33, FONT_A, '#222')
];

const boxGrid = (l, t, w, h) => ({ left: l, top: t, width: w, height: h, show: true, borderColor: '#333', borderWidth: 2, backgroundColor: 'transparent', containLabel: false, outerBoundsMode: 'none' });
const option = {
  animation: false,
  backgroundColor: '#ffffff',
  textStyle: { fontFamily: FONT },
  tooltip: { show: false },
  grid: [
    { left: 177, top: 25, width: 498, height: 501, show: false, containLabel: false, outerBoundsMode: 'none' },
    boxGrid(1086, 31, 481, 471.5),
    boxGrid(127.4, 723, 528.6, 470.6),
    boxGrid(1095.3, 648.3, 330.7, 470.2),
    { left: 94.7, top: 1389, width: 617, height: 413, show: false, containLabel: false, outerBoundsMode: 'none' },
    { left: 987.7, top: 1393, width: 455, height: 413, show: false, containLabel: false, outerBoundsMode: 'none' }
  ],
  xAxis: xAxes,
  yAxis: yAxes,
  visualMap: [{
    type: 'piecewise', seriesIndex: 0, orient: 'vertical', inverse: true,
    left: 728, top: 122, padding: 0, itemWidth: 43, itemHeight: 42, itemGap: 6, itemSymbol: 'rect',
    textGap: 12, selectedMode: false, hoverLink: false, showLabel: true,
    pieces: aDissimilarityLevels.map(v => { const g = aGrayStops[v]; return { value: v, label: String(v), color: 'rgb(' + g + ',' + g + ',' + g + ')' }; }),
    textStyle: { fontFamily: FONT_A, fontSize: 30, color: '#222' }
  }],
  legend: legends,
  graphic: graphics,
  series: series
};
const chart = echarts.init(document.getElementById('chart'), null, { renderer: 'canvas' });
chart.setOption(option);
</script>
</body></html>
